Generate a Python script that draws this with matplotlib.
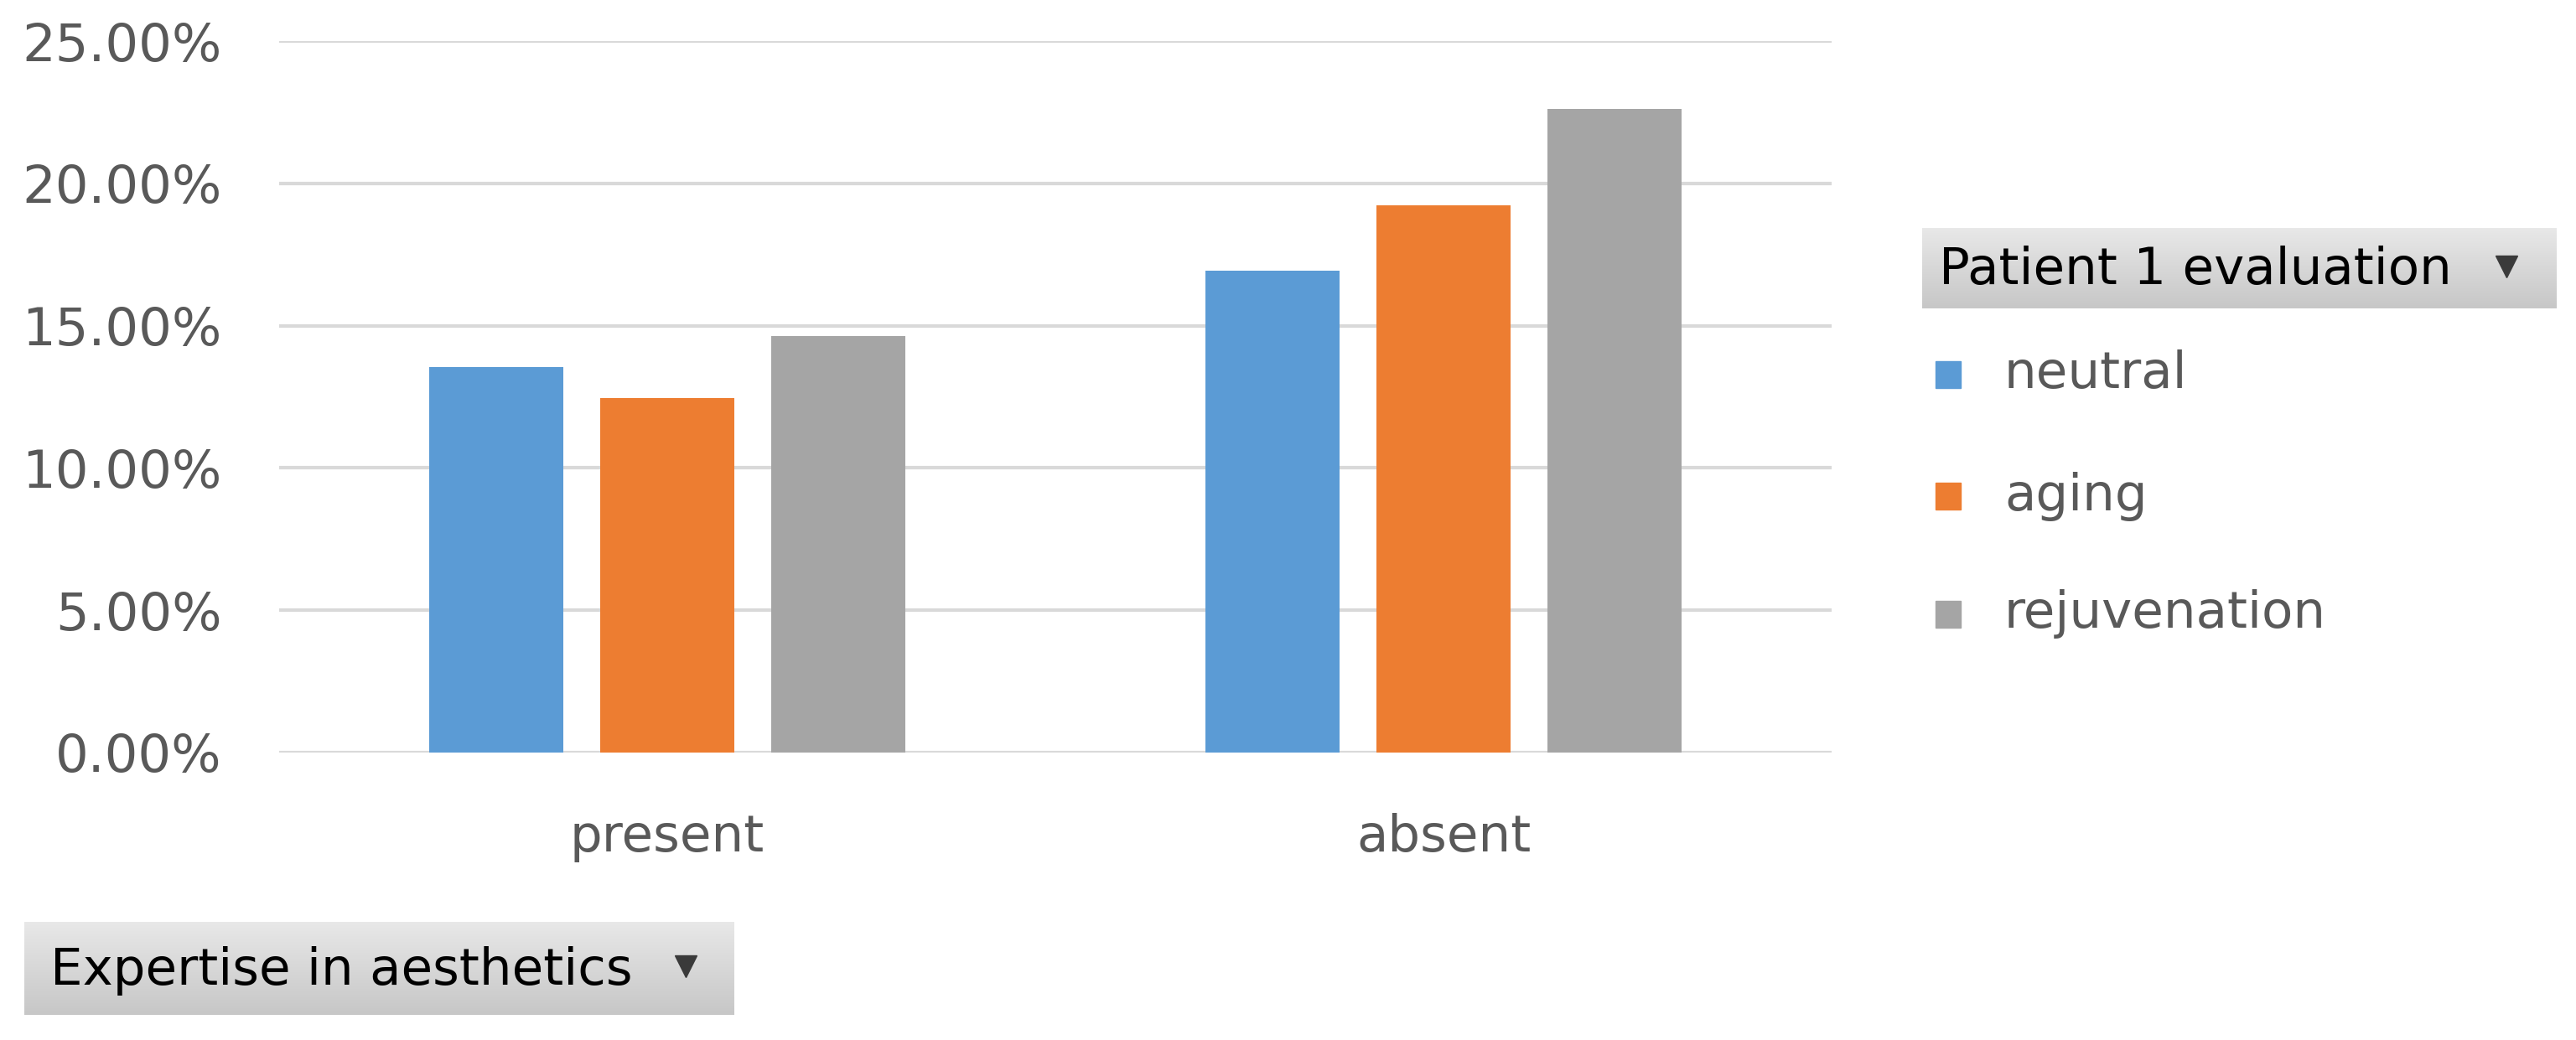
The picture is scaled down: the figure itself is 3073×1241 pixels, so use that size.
import matplotlib
matplotlib.use("Agg")
import matplotlib.pyplot as plt
import numpy as np

# data
categories = ["present", "absent"]
series_names = ["neutral", "aging", "rejuvenation"]
neutral = [0.1356, 0.1694]
aging = [0.1247, 0.1923]
rejuvenation = [0.1464, 0.2261]
y_ticks = [0.0, 0.05, 0.10, 0.15, 0.20, 0.25]

colors = ["#5b9bd5", "#ed7d31", "#a5a5a5"]
text_gray = "#595959"
grid_gray = "#d9d9d9"

W, H = 3073, 1241
DPI = 100


def px_box(x0, y0, x1, y1):
    # pixel box (top-left origin) -> figure fraction rect
    return [x0 / W, 1 - y1 / H, (x1 - x0) / W, (y1 - y0) / H]


def add_button(fig, box, label, text_x, tri_x):
    bax = fig.add_axes(px_box(*box))
    grad = np.linspace(0, 1, 64).reshape(-1, 1)
    top = np.array([0.91, 0.91, 0.91])
    bot = np.array([0.78, 0.78, 0.78])
    img = top + (bot - top) * grad[..., None]
    img = np.repeat(img, 2, axis=1)
    bax.imshow(img, aspect="auto", extent=[0, 1, 0, 1], origin="upper")
    bax.set_xlim(0, 1)
    bax.set_ylim(0, 1)
    bax.axis("off")
    bx0, by0, bx1, by1 = box
    tx = (text_x - bx0) / (bx1 - bx0)
    trx = (tri_x - bx0) / (bx1 - bx0)
    bax.text(tx, 0.47, label, fontsize=44, color="black", va="center", ha="left")
    bax.plot([trx], [0.52], marker="v", markersize=19, color="#3a3a3a")
    return bax


fig = plt.figure(figsize=(W / DPI, H / DPI), dpi=DPI)
fig.patch.set_facecolor("white")

ax = fig.add_axes(px_box(333, 49, 2185, 898))
x = np.arange(len(categories))
width = 0.173
step = 0.22
for i, (vals, c) in enumerate(zip([neutral, aging, rejuvenation], colors)):
    ax.bar(x + (i - 1) * step, vals, width=width, color=c, zorder=3)

ax.set_xlim(-0.5, 1.5)
ax.set_ylim(0, 0.25)
ax.set_yticks(y_ticks)
ax.set_yticklabels([f"{v * 100:.2f}%" for v in y_ticks])
ax.set_xticks(x)
ax.set_xticklabels(categories)
ax.grid(axis="y", color=grid_gray, linewidth=3, zorder=0)
ax.set_axisbelow(True)
for s in ax.spines.values():
    s.set_visible(False)
ax.tick_params(axis="y", length=0, pad=49, labelsize=45, labelcolor=text_gray)
ax.tick_params(axis="x", length=0, pad=52, labelsize=44, labelcolor=text_gray)

# legend drawn by hand to look like the pivot chart field list
legend_y = [447, 592, 733]
for name, c, ly in zip(series_names, colors, legend_y):
    fig.patches.append(plt.Rectangle((2309 / W, 1 - (ly + 16) / H), 30 / W, 32 / H,
                                     transform=fig.transFigure, color=c))
    fig.text(2391 / W, 1 - ly / H, name, fontsize=44, color=text_gray, va="center", ha="left")

add_button(fig, (2293, 272, 3050, 368), "Patient 1 evaluation", 2313, 2990)
add_button(fig, (29, 1100, 876, 1211), "Expertise in aesthetics", 60, 818)

fig.savefig("out.png", dpi=DPI)
